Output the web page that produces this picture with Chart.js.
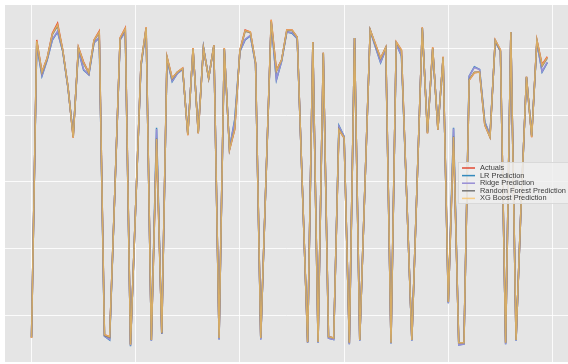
<!DOCTYPE html>
<html>
<head>
<meta charset="utf-8">
<script src="https://cdn.jsdelivr.net/npm/chart.js@4.4.0/dist/chart.umd.min.js"></script>
<style>
  html, body { margin: 0; padding: 0; background: #fff; }
  #wrap { width: 568px; height: 364px; }
</style>
</head>
<body>
<div id="wrap"><canvas id="chart" width="568" height="364"></canvas></div>
<script>
// === data (100 test samples) ===
const seriesNames = ['Actuals', 'LR Prediction', 'Ridge Prediction', 'Random Forest Prediction', 'XG Boost Prediction'];
const seriesColors = ['#E24A33', '#348ABD', '#988ED5', '#777777', 'rgba(251,193,94,0.72)'];
const xTicks = [0, 20, 40, 60, 80, 100];
const yTicks = [0, 1, 2, 3, 4];

const actuals = [
  -0.33, 4.12, 3.64, 3.85, 4.22, 4.37, 3.97, 3.42, 2.66, 4.01,
  3.79, 3.63, 4.12, 4.25, -0.28, -0.31, 1.88, 4.15, 4.30, -0.43,
  1.66, 3.75, 4.31, -0.36, 2.63, -0.25, 3.87, 3.55, 3.64, 3.70,
  2.70, 4.00, 2.73, 4.00, 3.55, 4.04, -0.33, 4.00, 2.48, 2.78,
  3.97, 4.27, 4.24, 3.78, -0.33, 2.03, 4.42, 3.67, 3.82, 4.27,
  4.27, 4.16, 1.88, -0.39, 4.09, -0.39, 3.93, -0.31, -0.33, 2.78,
  2.66, -0.40, 4.15, -0.36, 1.96, 4.27, 4.06, 3.85, 4.01, -0.40,
  4.09, 3.97, 1.81, -0.36, 1.96, 4.31, 2.73, 4.01, 2.78, 3.87,
  0.21, 2.66, -0.40, -0.40, 3.52, 3.63, 3.64, 2.85, 2.67, 4.12,
  3.97, -0.40, 4.24, -0.36, 1.73, 3.57, 2.67, 4.12, 3.75, 3.87
];
const lrPred = [
  -0.31, 4.05, 3.58, 3.82, 4.12, 4.24, 3.95, 3.40, 2.70, 3.96,
  3.67, 3.60, 4.08, 4.15, -0.30, -0.36, 1.88, 4.12, 4.25, -0.45,
  1.66, 3.72, 4.28, -0.37, 2.81, -0.27, 3.84, 3.50, 3.62, 3.68,
  2.72, 3.98, 2.75, 4.01, 3.55, 4.03, -0.35, 3.98, 2.50, 2.93,
  3.95, 4.12, 4.18, 3.76, -0.35, 2.03, 4.38, 3.52, 3.80, 4.24,
  4.22, 4.14, 1.88, -0.40, 4.07, -0.40, 3.91, -0.33, -0.35, 2.84,
  2.68, -0.42, 4.15, -0.37, 1.96, 4.26, 4.02, 3.78, 3.98, -0.41,
  4.06, 3.88, 1.81, -0.37, 1.96, 4.30, 2.75, 3.98, 2.80, 3.85,
  0.19, 2.81, -0.43, -0.42, 3.58, 3.72, 3.68, 2.90, 2.70, 4.10,
  3.95, -0.42, 4.24, -0.37, 1.73, 3.56, 2.70, 4.08, 3.64, 3.78
];
const ridgePred = [
  -0.31, 4.06, 3.59, 3.82, 4.13, 4.25, 3.95, 3.40, 2.70, 3.97,
  3.68, 3.60, 4.08, 4.16, -0.30, -0.35, 1.88, 4.12, 4.25, -0.44,
  1.66, 3.72, 4.28, -0.37, 2.79, -0.27, 3.84, 3.51, 3.62, 3.68,
  2.72, 3.98, 2.75, 4.01, 3.55, 4.03, -0.35, 3.98, 2.50, 2.91,
  3.95, 4.13, 4.19, 3.76, -0.35, 2.03, 4.38, 3.53, 3.80, 4.24,
  4.23, 4.14, 1.88, -0.40, 4.07, -0.40, 3.91, -0.33, -0.35, 2.83,
  2.68, -0.42, 4.15, -0.37, 1.96, 4.26, 4.02, 3.79, 3.98, -0.41,
  4.06, 3.89, 1.81, -0.37, 1.96, 4.30, 2.75, 3.98, 2.80, 3.85,
  0.19, 2.80, -0.43, -0.42, 3.58, 3.71, 3.68, 2.89, 2.70, 4.10,
  3.95, -0.42, 4.24, -0.37, 1.73, 3.56, 2.70, 4.08, 3.65, 3.79
];
const rfPred = [
  -0.32, 4.10, 3.63, 3.84, 4.20, 4.33, 3.96, 3.42, 2.67, 4.00,
  3.77, 3.62, 4.11, 4.23, -0.29, -0.32, 1.88, 4.14, 4.28, -0.42,
  1.66, 3.74, 4.30, -0.36, 2.65, -0.26, 3.86, 3.54, 3.64, 3.69,
  2.71, 3.99, 2.73, 4.00, 3.55, 4.04, -0.33, 3.99, 2.49, 2.80,
  3.96, 4.25, 4.23, 3.78, -0.33, 2.03, 4.40, 3.65, 3.82, 4.26,
  4.26, 4.16, 1.88, -0.39, 4.09, -0.39, 3.93, -0.31, -0.33, 2.79,
  2.66, -0.40, 4.15, -0.36, 1.96, 4.27, 4.05, 3.84, 4.01, -0.40,
  4.08, 3.96, 1.81, -0.36, 1.96, 4.30, 2.73, 4.00, 2.78, 3.86,
  0.21, 2.68, -0.40, -0.40, 3.53, 3.64, 3.64, 2.86, 2.67, 4.11,
  3.96, -0.40, 4.24, -0.36, 1.73, 3.57, 2.68, 4.11, 3.73, 3.85
];
const xgbPred = [
  -0.33, 4.11, 3.64, 3.85, 4.21, 4.35, 3.97, 3.42, 2.66, 4.01,
  3.78, 3.63, 4.12, 4.24, -0.28, -0.31, 1.88, 4.15, 4.29, -0.43,
  1.66, 3.75, 4.31, -0.36, 2.64, -0.25, 3.87, 3.55, 3.64, 3.70,
  2.70, 4.00, 2.73, 4.00, 3.55, 4.04, -0.33, 4.00, 2.48, 2.79,
  3.97, 4.26, 4.24, 3.78, -0.33, 2.03, 4.42, 3.66, 3.82, 4.27,
  4.27, 4.16, 1.88, -0.39, 4.09, -0.39, 3.93, -0.31, -0.33, 2.78,
  2.66, -0.40, 4.15, -0.36, 1.96, 4.27, 4.06, 3.85, 4.01, -0.40,
  4.09, 3.97, 1.81, -0.36, 1.96, 4.31, 2.73, 4.01, 2.78, 3.87,
  0.21, 2.67, -0.40, -0.40, 3.52, 3.63, 3.64, 2.85, 2.67, 4.12,
  3.97, -0.40, 4.24, -0.36, 1.73, 3.57, 2.67, 4.12, 3.74, 3.86
];

const allSeries = [actuals, lrPred, ridgePred, rfPred, xgbPred];

function toPoints(arr) {
  return arr.map((v, i) => ({ x: i, y: v }));
}

// grey panel behind the plot, like the ggplot style
const panelBg = {
  id: 'panelBg',
  beforeDraw(chart) {
    const { ctx, chartArea: a } = chart;
    ctx.save();
    ctx.fillStyle = '#E5E5E5';
    ctx.fillRect(a.left, a.top, a.right - a.left, a.bottom - a.top);
    ctx.restore();
  }
};

// legend box placed inside the plot at the right
const boxLegend = {
  id: 'boxLegend',
  afterDraw(chart) {
    const ctx = chart.ctx;
    const x0 = 458, y0 = 162, w = 112, rowH = 7.6;
    ctx.save();
    ctx.fillStyle = 'rgba(238,238,238,0.85)';
    ctx.strokeStyle = '#d4d4d4';
    ctx.lineWidth = 0.8;
    ctx.fillRect(x0, y0, w, 42);
    ctx.strokeRect(x0 + 0.5, y0 + 0.5, w, 41);
    ctx.font = '7.4px "Liberation Sans", Arial, sans-serif';
    ctx.textBaseline = 'middle';
    chart.data.datasets.forEach((ds, i) => {
      const yy = y0 + 6 + i * rowH;
      ctx.strokeStyle = ds.borderColor;
      ctx.lineWidth = 1.5;
      ctx.beginPath();
      ctx.moveTo(462, yy);
      ctx.lineTo(475, yy);
      ctx.stroke();
      ctx.fillStyle = '#3a3a3a';
      ctx.fillText(ds.label, 480, yy);
    });
    ctx.restore();
  }
};

const datasets = allSeries.map((arr, i) => ({
  label: seriesNames[i],
  data: toPoints(arr),
  borderColor: seriesColors[i],
  borderWidth: 1.5,
  pointRadius: 0,
  tension: 0,
  order: allSeries.length - i   // later series drawn on top
}));

new Chart(document.getElementById('chart'), {
  type: 'line',
  data: { datasets },
  options: {
    responsive: false,
    animation: false,
    layout: { padding: { top: 5, left: 0, right: 0, bottom: 0 } },
    plugins: { legend: { display: false }, tooltip: { enabled: false } },
    scales: {
      x: {
        type: 'linear',
        min: -5.09,
        max: 102.97,
        afterBuildTicks: s => { s.ticks = xTicks.map(v => ({ value: v })); },
        afterFit: s => { s.height = 2; },
        ticks: { display: false },
        grid: { color: 'rgba(255,255,255,0.85)', lineWidth: 1, drawTicks: false },
        border: { display: false }
      },
      y: {
        min: -0.687,
        max: 4.642,
        afterBuildTicks: s => { s.ticks = yTicks.map(v => ({ value: v })); },
        afterFit: s => { s.width = 5; },
        ticks: { display: false },
        grid: { color: 'rgba(255,255,255,0.85)', lineWidth: 1, drawTicks: false },
        border: { display: false }
      }
    }
  },
  plugins: [panelBg, boxLegend]
});
</script>
</body>
</html>
